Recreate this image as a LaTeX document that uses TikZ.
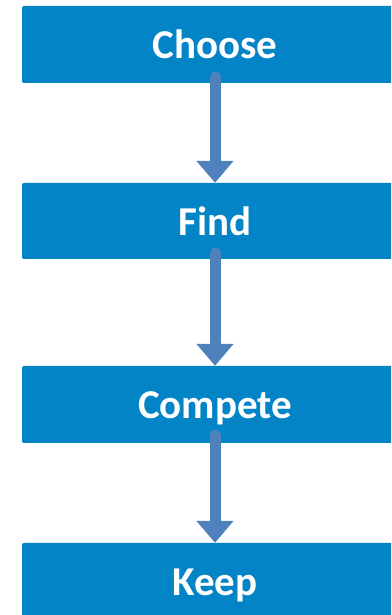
\documentclass[tikz,border=0pt]{standalone}
\usepackage{fontspec}
\setmainfont{Carlito}
\usetikzlibrary{arrows.meta}
\definecolor{boxblue}{RGB}{2,132,199}
\definecolor{arrowblue}{RGB}{79,129,189}
\tikzset{
  stepbox/.style={fill=boxblue, draw=none, rounded corners=2pt, minimum width=386pt, minimum height=77pt, inner sep=0pt, text height=29pt, text depth=0pt, text=white, font=\bfseries\fontsize{41}{41}\selectfont},
  flowarrow/.style={draw=arrowblue, line width=11pt, line cap=round, -{Triangle[width=36pt,length=22pt]}}
}
\begin{document}
\begin{tikzpicture}[x=1pt,y=1pt]
\useasboundingbox (0,0) rectangle (391,615);
\clip (0,0) rectangle (391,615);
\node[stepbox] (c1) at (215,570.5) {Choose};
\node[stepbox, minimum height=76pt] (c2) at (215,394) {Find};
\node[stepbox] (c3) at (215,210.5) {Compete};
\node[stepbox] (c4) at (215,33.5) {Keep};
\draw[flowarrow] ([yshift=6pt]c1.south) -- (c2.north);
\draw[flowarrow] ([yshift=6pt]c2.south) -- (c3.north);
\draw[flowarrow] ([yshift=8pt]c3.south) -- (c4.north);
\end{tikzpicture}
\end{document}
